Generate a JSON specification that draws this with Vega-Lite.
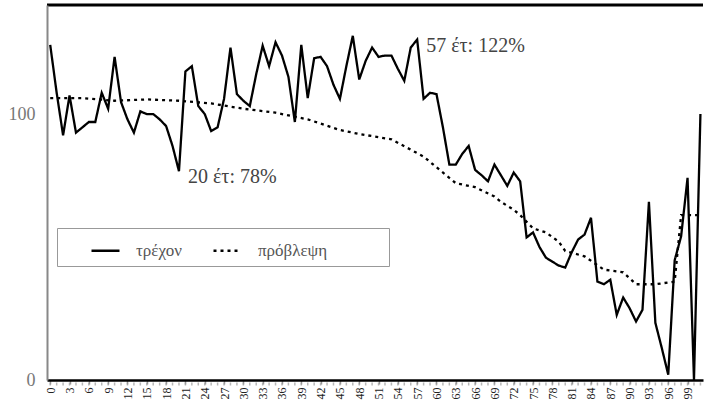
{
  "$schema": "https://vega.github.io/schema/vega-lite/v6.json",
  "width": 656,
  "height": 375,
  "autosize": {"type": "none"},
  "padding": {"left": 47, "top": 5, "right": 2, "bottom": 34},
  "background": "white",
  "config": {
    "view": {"stroke": "black", "strokeWidth": 3, "strokeDash": [656, 3000]},
    "font": "Liberation Serif",
    "axisX": {"labelOverlap": false, "labelBound": false, "labelFlush": false},
    "axisY": {"labelOverlap": false}
  },
  "datasets": {
    "series": [
      {"age": 0, "value": 126, "series": "τρέχον"},
      {"age": 1, "value": 108, "series": "τρέχον"},
      {"age": 2, "value": 92, "series": "τρέχον"},
      {"age": 3, "value": 107, "series": "τρέχον"},
      {"age": 4, "value": 93, "series": "τρέχον"},
      {"age": 5, "value": 95, "series": "τρέχον"},
      {"age": 6, "value": 97, "series": "τρέχον"},
      {"age": 7, "value": 97, "series": "τρέχον"},
      {"age": 8, "value": 108, "series": "τρέχον"},
      {"age": 9, "value": 102, "series": "τρέχον"},
      {"age": 10, "value": 121.5, "series": "τρέχον"},
      {"age": 11, "value": 104.5, "series": "τρέχον"},
      {"age": 12, "value": 98, "series": "τρέχον"},
      {"age": 13, "value": 93, "series": "τρέχον"},
      {"age": 14, "value": 101, "series": "τρέχον"},
      {"age": 15, "value": 100, "series": "τρέχον"},
      {"age": 16, "value": 100, "series": "τρέχον"},
      {"age": 17, "value": 98, "series": "τρέχον"},
      {"age": 18, "value": 95.5, "series": "τρέχον"},
      {"age": 19, "value": 88, "series": "τρέχον"},
      {"age": 20, "value": 78.5, "series": "τρέχον"},
      {"age": 21, "value": 116, "series": "τρέχον"},
      {"age": 22, "value": 118, "series": "τρέχον"},
      {"age": 23, "value": 103, "series": "τρέχον"},
      {"age": 24, "value": 100, "series": "τρέχον"},
      {"age": 25, "value": 93.6, "series": "τρέχον"},
      {"age": 26, "value": 95, "series": "τρέχον"},
      {"age": 27, "value": 105.7, "series": "τρέχον"},
      {"age": 28, "value": 125, "series": "τρέχον"},
      {"age": 29, "value": 107.5, "series": "τρέχον"},
      {"age": 30, "value": 105, "series": "τρέχον"},
      {"age": 31, "value": 103, "series": "τρέχον"},
      {"age": 32, "value": 115, "series": "τρέχον"},
      {"age": 33, "value": 125.7, "series": "τρέχον"},
      {"age": 34, "value": 118, "series": "τρέχον"},
      {"age": 35, "value": 127, "series": "τρέχον"},
      {"age": 36, "value": 122, "series": "τρέχον"},
      {"age": 37, "value": 114, "series": "τρέχον"},
      {"age": 38, "value": 97, "series": "τρέχον"},
      {"age": 39, "value": 126, "series": "τρέχον"},
      {"age": 40, "value": 106, "series": "τρέχον"},
      {"age": 41, "value": 121, "series": "τρέχον"},
      {"age": 42, "value": 121.5, "series": "τρέχον"},
      {"age": 43, "value": 118, "series": "τρέχον"},
      {"age": 44, "value": 111, "series": "τρέχον"},
      {"age": 45, "value": 105.7, "series": "τρέχον"},
      {"age": 46, "value": 118, "series": "τρέχον"},
      {"age": 47, "value": 129.4, "series": "τρέχον"},
      {"age": 48, "value": 113, "series": "τρέχον"},
      {"age": 49, "value": 120, "series": "τρέχον"},
      {"age": 50, "value": 125, "series": "τρέχον"},
      {"age": 51, "value": 121.5, "series": "τρέχον"},
      {"age": 52, "value": 122, "series": "τρέχον"},
      {"age": 53, "value": 122, "series": "τρέχον"},
      {"age": 54, "value": 117, "series": "τρέχον"},
      {"age": 55, "value": 112.5, "series": "τρέχον"},
      {"age": 56, "value": 125, "series": "τρέχον"},
      {"age": 57, "value": 128, "series": "τρέχον"},
      {"age": 58, "value": 105.7, "series": "τρέχον"},
      {"age": 59, "value": 108, "series": "τρέχον"},
      {"age": 60, "value": 107.5, "series": "τρέχον"},
      {"age": 61, "value": 95, "series": "τρέχον"},
      {"age": 62, "value": 81, "series": "τρέχον"},
      {"age": 63, "value": 81, "series": "τρέχον"},
      {"age": 64, "value": 85, "series": "τρέχον"},
      {"age": 65, "value": 88, "series": "τρέχον"},
      {"age": 66, "value": 79, "series": "τρέχον"},
      {"age": 67, "value": 77, "series": "τρέχον"},
      {"age": 68, "value": 74.7, "series": "τρέχον"},
      {"age": 69, "value": 81, "series": "τρέχον"},
      {"age": 70, "value": 77, "series": "τρέχον"},
      {"age": 71, "value": 73, "series": "τρέχον"},
      {"age": 72, "value": 78, "series": "τρέχον"},
      {"age": 73, "value": 74.7, "series": "τρέχον"},
      {"age": 74, "value": 53.6, "series": "τρέχον"},
      {"age": 75, "value": 55.5, "series": "τρέχον"},
      {"age": 76, "value": 50, "series": "τρέχον"},
      {"age": 77, "value": 46, "series": "τρέχον"},
      {"age": 78, "value": 44.5, "series": "τρέχον"},
      {"age": 79, "value": 43, "series": "τρέχον"},
      {"age": 80, "value": 42.3, "series": "τρέχον"},
      {"age": 81, "value": 48, "series": "τρέχον"},
      {"age": 82, "value": 52.8, "series": "τρέχον"},
      {"age": 83, "value": 54.7, "series": "τρέχον"},
      {"age": 84, "value": 61, "series": "τρέχον"},
      {"age": 85, "value": 37, "series": "τρέχον"},
      {"age": 86, "value": 36, "series": "τρέχον"},
      {"age": 87, "value": 37.7, "series": "τρέχον"},
      {"age": 88, "value": 24.5, "series": "τρέχον"},
      {"age": 89, "value": 31, "series": "τρέχον"},
      {"age": 90, "value": 27, "series": "τρέχον"},
      {"age": 91, "value": 22, "series": "τρέχον"},
      {"age": 92, "value": 26.4, "series": "τρέχον"},
      {"age": 93, "value": 67, "series": "τρέχον"},
      {"age": 94, "value": 21.5, "series": "τρέχον"},
      {"age": 95, "value": 12, "series": "τρέχον"},
      {"age": 96, "value": 2, "series": "τρέχον"},
      {"age": 97, "value": 45, "series": "τρέχον"},
      {"age": 98, "value": 54, "series": "τρέχον"},
      {"age": 99, "value": 76, "series": "τρέχον"},
      {"age": 100, "value": 0, "series": "τρέχον"},
      {"age": 101, "value": 100, "series": "τρέχον"},
      {"age": 0, "value": 106, "series": "πρόβλεψη"},
      {"age": 5, "value": 106, "series": "πρόβλεψη"},
      {"age": 10, "value": 105, "series": "πρόβλεψη"},
      {"age": 15, "value": 105.5, "series": "πρόβλεψη"},
      {"age": 20, "value": 105, "series": "πρόβλεψη"},
      {"age": 25, "value": 104, "series": "πρόβλεψη"},
      {"age": 30, "value": 102, "series": "πρόβλεψη"},
      {"age": 35, "value": 100.5, "series": "πρόβλεψη"},
      {"age": 40, "value": 98, "series": "πρόβλεψη"},
      {"age": 45, "value": 94, "series": "πρόβλεψη"},
      {"age": 48, "value": 92.5, "series": "πρόβλεψη"},
      {"age": 53, "value": 90.5, "series": "πρόβλεψη"},
      {"age": 58, "value": 84, "series": "πρόβλεψη"},
      {"age": 60, "value": 80, "series": "πρόβλεψη"},
      {"age": 63, "value": 74, "series": "πρόβλεψη"},
      {"age": 66, "value": 72.5, "series": "πρόβλεψη"},
      {"age": 69, "value": 69, "series": "πρόβλεψη"},
      {"age": 70, "value": 67, "series": "πρόβλεψη"},
      {"age": 72, "value": 64, "series": "πρόβλεψη"},
      {"age": 73, "value": 62, "series": "πρόβλεψη"},
      {"age": 75, "value": 57, "series": "πρόβλεψη"},
      {"age": 77, "value": 55.5, "series": "πρόβλεψη"},
      {"age": 79, "value": 52, "series": "πρόβλεψη"},
      {"age": 80, "value": 48.5, "series": "πρόβλεψη"},
      {"age": 83, "value": 46.5, "series": "πρόβλεψη"},
      {"age": 86, "value": 41.5, "series": "πρόβλεψη"},
      {"age": 89, "value": 40.5, "series": "πρόβλεψη"},
      {"age": 91, "value": 36, "series": "πρόβλεψη"},
      {"age": 94, "value": 36, "series": "πρόβλεψη"},
      {"age": 97, "value": 37, "series": "πρόβλεψη"},
      {"age": 98, "value": 62, "series": "πρόβλεψη"},
      {"age": 101, "value": 62, "series": "πρόβλεψη"}
    ],
    "notes": [
      {"age": 20, "value": 78.5, "label": "20 έτ: 78%"},
      {"age": 57, "value": 128, "label": "57 έτ: 122%"}
    ]
  },
  "layer": [
    {
      "mark": {"type": "rule", "color": "black", "strokeWidth": 2.5},
      "encoding": {"y": {"datum": 100, "type": "quantitative"}}
    },
    {
      "data": {"name": "series"},
      "mark": {"type": "line", "strokeWidth": 2.3, "interpolate": "linear"},
      "encoding": {
        "x": {
          "field": "age", "type": "quantitative",
          "scale": {"domain": [-0.5, 101.4], "nice": false, "zero": false},
          "axis": {
            "title": null,
            "values": [0,3,6,9,12,15,18,21,24,27,30,33,36,39,42,45,48,51,54,57,60,63,66,69,72,75,78,81,84,87,90,93,96,99],
            "labelOverlap": false,
            "labelAngle": 270,
            "labelAlign": "right",
            "labelBaseline": "middle",
            "labelFontSize": 12,
            "labelColor": "#222",
            "labelPadding": 3,
            "domainColor": "black",
            "domainWidth": 2.5,
            "tickColor": "#999",
            "tickSize": 4,
            "tickWidth": 1.5,
            "grid": false
          }
        },
        "y": {
          "field": "value", "type": "quantitative",
          "scale": {"domain": [0, 141], "nice": false},
          "axis": {
            "title": null,
            "values": [0, 100],
            "ticks": false,
            "grid": false,
            "labelPadding": 12,
            "labelFontSize": 18,
            "labelColor": "#777",
            "domainColor": "#888",
            "domainWidth": 2
          }
        },
        "color": {
          "field": "series", "type": "nominal",
          "scale": {"domain": ["τρέχον", "πρόβλεψη"], "range": ["black", "black"]},
          "legend": {
            "title": null,
            "orient": "none",
            "legendX": 10,
            "legendY": 223,
            "direction": "horizontal",
            "columns": 2,
            "padding": 7,
            "strokeColor": "#999",
            "fillColor": "white",
            "symbolType": "stroke",
            "symbolSize": 784,
            "symbolStrokeWidth": 2.5,
            "symbolOffset": 26,
            "labelOffset": 15,
            "columnPadding": 4,
            "labelFontSize": 17,
            "labelLimit": 300,
            "labelColor": "#555",
            "labelFont": "Liberation Serif",
            "labelExpr": "datum.index == 1 || datum.value == 'πρόβλεψη' ? datum.label + '\u2003\u2003\u2002\u2800' : datum.label"
          }
        },
        "strokeDash": {
          "field": "series", "type": "nominal",
          "scale": {"domain": ["τρέχον", "πρόβλεψη"], "range": [[1, 0], [3, 4]]}
        }
      }
    },
    {
      "data": {"name": "series"},
      "transform": [{"filter": "datum.series == 'τρέχον'"}],
      "mark": {"type": "tick", "orient": "vertical", "color": "#999", "size": 3, "thickness": 1.5, "yOffset": 4},
      "encoding": {
        "x": {
          "field": "age", "type": "quantitative",
          "axis": {
            "title": null,
            "values": [0,3,6,9,12,15,18,21,24,27,30,33,36,39,42,45,48,51,54,57,60,63,66,69,72,75,78,81,84,87,90,93,96,99],
            "labelOverlap": false,
            "labelAngle": 270,
            "labelAlign": "right",
            "labelBaseline": "middle",
            "labelFontSize": 12,
            "labelColor": "#222",
            "labelPadding": 3,
            "domainColor": "black",
            "domainWidth": 2.5,
            "tickColor": "#999",
            "tickSize": 4,
            "tickWidth": 1.5,
            "grid": false
          }
        },
        "y": {"datum": 0, "type": "quantitative"}
      }
    },
    {
      "data": {"name": "notes"},
      "mark": {"type": "text", "align": "left", "baseline": "middle", "dx": 9, "dy": 6, "fontSize": 20, "color": "#444", "font": "Liberation Serif"},
      "encoding": {
        "x": {
          "field": "age", "type": "quantitative",
          "axis": {
            "title": null,
            "values": [0,3,6,9,12,15,18,21,24,27,30,33,36,39,42,45,48,51,54,57,60,63,66,69,72,75,78,81,84,87,90,93,96,99],
            "labelOverlap": false,
            "labelAngle": 270,
            "labelAlign": "right",
            "labelBaseline": "middle",
            "labelFontSize": 12,
            "labelColor": "#222",
            "labelPadding": 3,
            "domainColor": "black",
            "domainWidth": 2.5,
            "tickColor": "#999",
            "tickSize": 4,
            "tickWidth": 1.5,
            "grid": false
          }
        },
        "y": {"field": "value", "type": "quantitative"},
        "text": {"field": "label"}
      }
    }
  ]
}
